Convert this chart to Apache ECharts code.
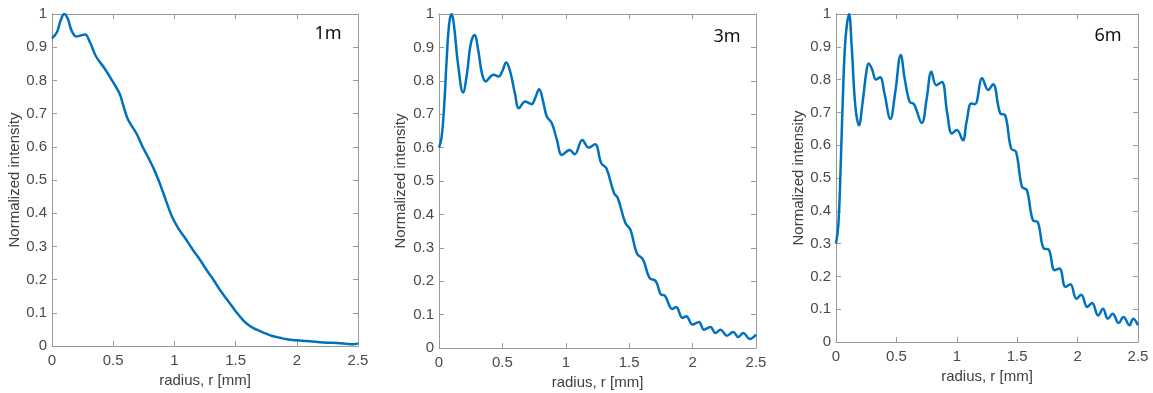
<!DOCTYPE html>
<html>
<head>
<meta charset="utf-8">
<script src="https://cdn.jsdelivr.net/npm/echarts@6/dist/echarts.min.js"></script>
<style>
  html, body { margin: 0; padding: 0; background: #fff; }
  #chart { width: 1153px; height: 393px; }
</style>
</head>
<body>
<div id="chart"></div>
<script>
// radius [mm] and normalized intensity
const r1m = [0, 0.04, 0.07, 0.1, 0.13, 0.16, 0.2, 0.24, 0.27, 0.31, 0.36, 0.43, 0.49, 0.55, 0.58, 0.62, 0.69, 0.74, 0.79, 0.83, 0.87, 0.91, 0.98, 1.04, 1.09, 1.15, 1.21, 1.27, 1.32, 1.37, 1.43, 1.5, 1.56, 1.6, 1.65, 1.7, 1.75, 1.8, 1.86, 1.92, 2.0, 2.08, 2.17, 2.25, 2.33, 2.4, 2.46, 2.5];
const i1m = [0.927, 0.945, 0.98, 1.0, 0.985, 0.95, 0.932, 0.936, 0.938, 0.915, 0.872, 0.836, 0.80, 0.762, 0.728, 0.683, 0.64, 0.60, 0.565, 0.535, 0.50, 0.46, 0.39, 0.35, 0.324, 0.29, 0.259, 0.225, 0.199, 0.17, 0.14, 0.105, 0.078, 0.065, 0.053, 0.045, 0.037, 0.03, 0.025, 0.02, 0.017, 0.015, 0.012, 0.010, 0.009, 0.007, 0.005, 0.008];

const r3m = [0, 0.02, 0.04, 0.06, 0.08, 0.1, 0.12, 0.15, 0.19, 0.22, 0.25, 0.28, 0.31, 0.34, 0.37, 0.4, 0.43, 0.47, 0.5, 0.53, 0.56, 0.6, 0.63, 0.68, 0.73, 0.76, 0.79, 0.82, 0.85, 0.89, 0.93, 0.97, 1.03, 1.07, 1.13, 1.18, 1.23, 1.28, 1.32, 1.38, 1.41, 1.47, 1.51, 1.56, 1.61, 1.66, 1.71, 1.75, 1.78, 1.84, 1.87, 1.92, 1.95, 2.0, 2.05, 2.09, 2.14, 2.18, 2.22, 2.27, 2.32, 2.36, 2.4, 2.45, 2.5];
const i3m = [0.60, 0.63, 0.72, 0.86, 0.97, 1.0, 0.96, 0.85, 0.765, 0.82, 0.91, 0.937, 0.89, 0.82, 0.798, 0.81, 0.818, 0.813, 0.83, 0.855, 0.83, 0.76, 0.718, 0.738, 0.73, 0.75, 0.775, 0.74, 0.693, 0.673, 0.623, 0.578, 0.593, 0.58, 0.623, 0.60, 0.61, 0.553, 0.538, 0.464, 0.449, 0.374, 0.354, 0.284, 0.264, 0.21, 0.20, 0.16, 0.157, 0.117, 0.123, 0.09, 0.095, 0.07, 0.078, 0.055, 0.063, 0.045, 0.055, 0.037, 0.048, 0.033, 0.045, 0.027, 0.04];

const r6m = [0, 0.02, 0.04, 0.06, 0.08, 0.108, 0.13, 0.16, 0.19, 0.22, 0.25, 0.27, 0.3, 0.33, 0.365, 0.4, 0.45, 0.49, 0.536, 0.57, 0.61, 0.645, 0.71, 0.75, 0.79, 0.83, 0.876, 0.92, 0.96, 1.0, 1.05, 1.08, 1.12, 1.15, 1.21, 1.26, 1.30, 1.36, 1.40, 1.45, 1.49, 1.54, 1.58, 1.63, 1.67, 1.72, 1.76, 1.81, 1.85, 1.90, 1.94, 1.99, 2.03, 2.08, 2.12, 2.17, 2.21, 2.25, 2.29, 2.34, 2.38, 2.43, 2.46, 2.5];
const i6m = [0.30, 0.36, 0.55, 0.78, 0.93, 1.0, 0.90, 0.72, 0.661, 0.73, 0.82, 0.849, 0.83, 0.80, 0.807, 0.76, 0.68, 0.76, 0.875, 0.80, 0.732, 0.725, 0.668, 0.74, 0.824, 0.783, 0.793, 0.70, 0.636, 0.646, 0.615, 0.67, 0.727, 0.725, 0.804, 0.768, 0.786, 0.697, 0.692, 0.59, 0.58, 0.473, 0.463, 0.371, 0.366, 0.285, 0.282, 0.219, 0.224, 0.168, 0.176, 0.132, 0.144, 0.107, 0.119, 0.081, 0.101, 0.071, 0.086, 0.058, 0.076, 0.051, 0.071, 0.051];

const panelLabels = ["1m", "3m", "6m"];
const xName = "radius, r [mm]";
const yName = "Normalized intensity";
const xRange = [0, 2.5, 0.5];
const yRange = [0, 1, 0.1];

const profiles = [[r1m, i1m], [r3m, i3m], [r6m, i6m]];

// plot boxes in the 1153x393 window
const boxes = [
  { left: 52, top: 14, width: 306, height: 332, xGap: 25, yGap: 28, label: [328, 34] },
  { left: 439, top: 14, width: 317, height: 334, xGap: 26, yGap: 31, label: [727, 37] },
  { left: 836, top: 14, width: 302, height: 328, xGap: 25, yGap: 29, label: [1108, 36] },
];

const lineColor = "#0072BD";
const axisColor = "#9a9a9a";
const font = "Liberation Sans, Arial, sans-serif";

const chart = echarts.init(document.getElementById("chart"));

const grid = [], xAxis = [], yAxis = [], series = [], graphic = [];

boxes.forEach((b, k) => {
  grid.push({ left: b.left, top: b.top, width: b.width, height: b.height, outerBoundsMode: "none" });

  const common = {
    gridIndex: k,
    type: "value",
    axisLine: { show: true, onZero: false, lineStyle: { color: axisColor, width: 1 } },
    axisTick: { show: true, inside: true, length: 5, lineStyle: { color: axisColor } },
    splitLine: { show: false },
  };

  // bottom / left axes with labels
  xAxis.push({
    ...common,
    position: "bottom",
    min: xRange[0], max: xRange[1], interval: xRange[2],
    name: xName, nameLocation: "middle", nameGap: b.xGap,
    nameTextStyle: { color: "#404040", fontSize: 15, fontFamily: font },
    axisLabel: { color: "#4a4a4a", fontSize: 15, fontFamily: font, margin: 7, showMinLabel: true, showMaxLabel: true, hideOverlap: false },
  });
  yAxis.push({
    ...common,
    position: "left",
    min: yRange[0], max: yRange[1], interval: yRange[2],
    name: yName, nameLocation: "middle", nameGap: b.yGap,
    nameTextStyle: { color: "#404040", fontSize: 15, fontFamily: font },
    axisLabel: { color: "#4a4a4a", fontSize: 15, fontFamily: font, margin: 5, showMinLabel: true, showMaxLabel: true, hideOverlap: false },
  });

  // top / right axes just close the box (MATLAB style)
  xAxis.push({
    ...common,
    position: "top",
    min: xRange[0], max: xRange[1], interval: xRange[2],
    axisLabel: { show: false },
  });
  yAxis.push({
    ...common,
    position: "right",
    min: yRange[0], max: yRange[1], interval: yRange[2],
    axisLabel: { show: false },
  });

  const [rs, vs] = profiles[k];
  series.push({
    type: "line",
    xAxisIndex: k * 2,
    yAxisIndex: k * 2,
    data: rs.map((r, j) => [r, vs[j]]),
    smooth: 0.4,
    showSymbol: false,
    lineStyle: { color: lineColor, width: 2.5 },
    animation: false,
    silent: true,
  });

  graphic.push({
    type: "text",
    x: b.label[0],
    y: b.label[1],
    style: {
      text: panelLabels[k],
      fill: "#111",
      font: "18px 'Noto Sans', sans-serif",
      textAlign: "center",
      textVerticalAlign: "middle",
    },
  });
});

chart.setOption({
  animation: false,
  grid,
  xAxis,
  yAxis,
  series,
  graphic,
});
</script>
</body>
</html>
